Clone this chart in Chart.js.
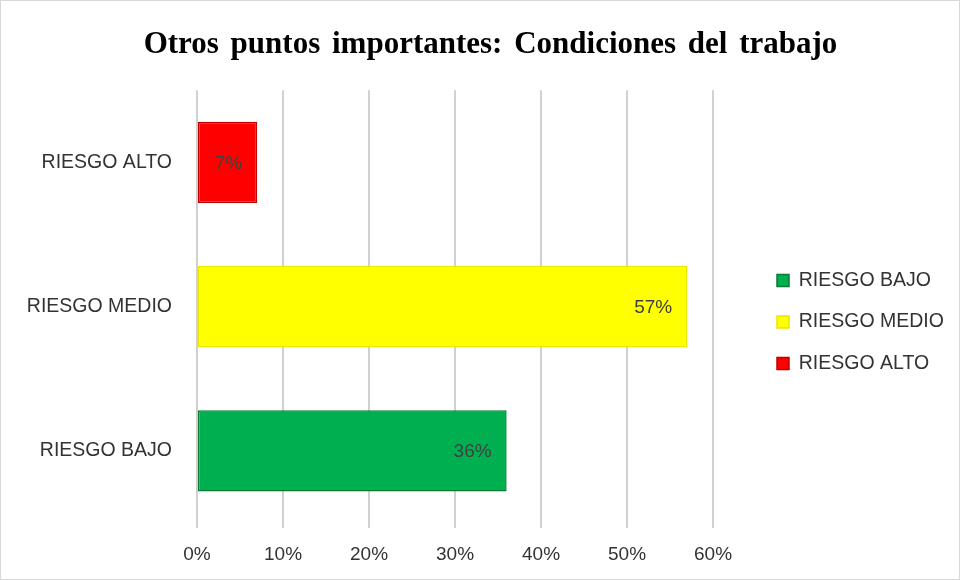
<!DOCTYPE html>
<html>
<head>
<meta charset="utf-8">
<script src="https://cdn.jsdelivr.net/npm/chart.js@4.4.0/dist/chart.umd.min.js"></script>
<style>
  html, body { margin: 0; padding: 0; background: #fff; }
  #wrap { width: 958px; height: 578px; border: 1px solid #d9d9d9; position: relative; }
</style>
</head>
<body>
<div id="wrap"><canvas id="myChart" width="958" height="578"></canvas></div>
<script>
// datos
var categorias = ['RIESGO ALTO', 'RIESGO MEDIO', 'RIESGO BAJO'];
var series = ['RIESGO BAJO', 'RIESGO MEDIO', 'RIESGO ALTO'];
var valores = { 'RIESGO BAJO': 36, 'RIESGO MEDIO': 57, 'RIESGO ALTO': 7 };
var ticksX = [0, 10, 20, 30, 40, 50, 60];

var relleno = { 'RIESGO BAJO': '#00b050', 'RIESGO MEDIO': '#ffff00', 'RIESGO ALTO': '#ff0000' };
var borde = { 'RIESGO BAJO': '#0a7a35', 'RIESGO MEDIO': '#e8e800', 'RIESGO ALTO': '#c00000' };

var fuente = "'Liberation Sans', sans-serif";

var datasets = series.map(function (s) {
  return {
    label: s,
    data: categorias.map(function (c) { return c === s ? valores[s] : null; }),
    backgroundColor: relleno[s],
    borderColor: borde[s],
    borderWidth: 1.5,
    borderSkipped: false,
    grouped: false,
    categoryPercentage: 1,
    barPercentage: 0.5625
  };
});

// etiquetas dentro de las barras
var etiquetas = {
  id: 'etiquetas',
  afterDatasetsDraw: function (chart) {
    var ctx = chart.ctx;
    ctx.save();
    ctx.font = '19px ' + fuente;
    ctx.fillStyle = '#404040';
    ctx.textAlign = 'right';
    ctx.textBaseline = 'middle';
    chart.data.datasets.forEach(function (ds, i) {
      chart.getDatasetMeta(i).data.forEach(function (bar, j) {
        if (ds.data[j] == null) return;
        ctx.fillText(ds.data[j] + '%', bar.x - 15, bar.y + 1);
      });
    });
    ctx.restore();
  }
};

// ajustes de posición: leyenda y espaciado del título
var ajustes = {
  id: 'ajustes',
  afterInit: function (chart) {
    var t = chart.titleBlock;
    var orig = t.draw.bind(t);
    t.draw = function () {
      var c = chart.ctx;
      c.save();
      c.wordSpacing = '4px';
      c.translate(34, 0);
      orig();
      c.restore();
    };
  },
  afterLayout: function (chart) {
    var lg = chart.legend;
    var dx = 754 - lg.left;
    var dy = 32;
    lg.left += dx; lg.right += dx;
    lg.top += dy; lg.bottom += dy;
  }
};

var ctx = document.getElementById('myChart').getContext('2d');
var chart = new Chart(ctx, {
  type: 'bar',
  data: { labels: categorias, datasets: datasets },
  plugins: [etiquetas, ajustes],
  options: {
    indexAxis: 'y',
    responsive: false,
    animation: false,
    layout: { padding: { left: 0, right: 47, bottom: 0 } },
    scales: {
      x: {
        min: 0,
        max: 60,
        afterBuildTicks: function (axis) {
          axis.ticks = ticksX.map(function (v) { return { value: v }; });
        },
        afterFit: function (axis) { axis.height = 56; },
        ticks: {
          callback: function (v) { return v + '%'; },
          font: { family: fuente, size: 19 },
          color: '#333333',
          padding: 15
        },
        grid: { color: '#d0d0d0', lineWidth: 2, tickLength: 5, drawTicks: true },
        border: { display: false }
      },
      y: {
        afterFit: function (axis) { axis.width = 196; },
        ticks: {
          font: { family: fuente, size: 19.5 },
          color: '#333333',
          padding: 17
        },
        grid: { display: false },
        border: { display: false }
      }
    },
    plugins: {
      title: {
        display: true,
        text: 'Otros puntos importantes: Condiciones del trabajo',
        font: { family: "'Liberation Serif', serif", size: 31, weight: 'bold' },
        color: '#000',
        padding: { top: 25, bottom: 27 }
      },
      legend: {
        position: 'right',
        align: 'center',
        labels: {
          font: { family: fuente, size: 19.5 },
          color: '#333333',
          boxWidth: 12,
          boxHeight: 12,
          padding: 22
        }
      },
      tooltip: { enabled: false }
    }
  }
});
</script>
</body>
</html>
